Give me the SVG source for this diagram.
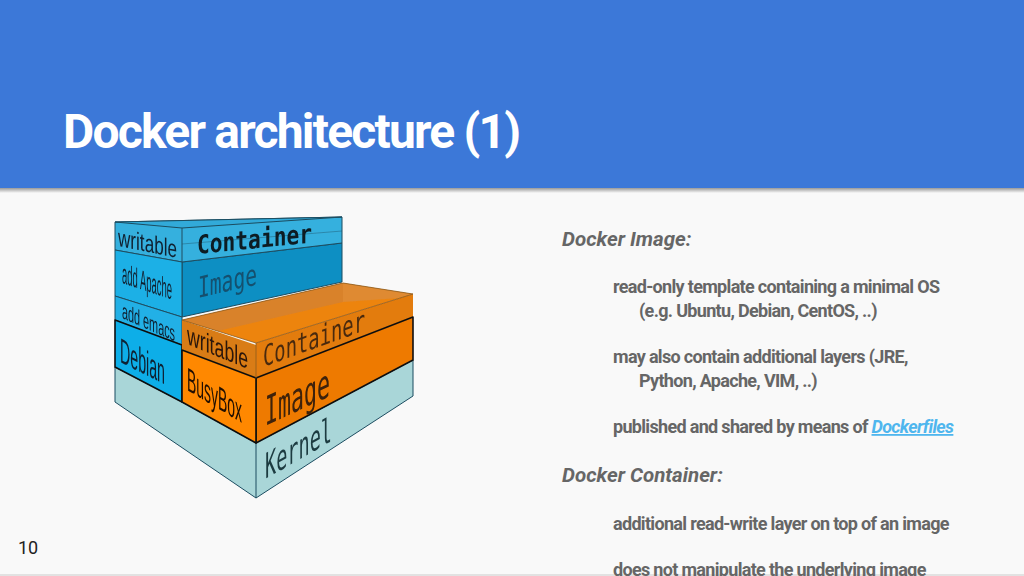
<svg xmlns="http://www.w3.org/2000/svg" width="1024" height="576" viewBox="0 0 1024 576">
<defs>
<style>
.b{font-family:Roboto,"Liberation Sans",sans-serif;font-weight:700;font-size:18px;fill:#666;letter-spacing:-.68px}
.h{font-family:Roboto,"Liberation Sans",sans-serif;font-weight:700;font-style:italic;font-size:20.5px;fill:#666}
.l{font-family:"Liberation Sans",sans-serif;fill:#102030}
.m{font-family:"DejaVu Sans Mono","Liberation Mono",monospace}
.e{stroke:#1c4c60;stroke-width:1;stroke-linejoin:round}
.k{stroke:#101010;stroke-width:1.6;stroke-linejoin:round}
</style>
<linearGradient id="sh" x1="0" y1="0" x2="0" y2="1"><stop offset="0" stop-color="#999"/><stop offset="1" stop-color="#f9f9f9"/></linearGradient>
<filter id="soft" x="-5%" y="-5%" width="110%" height="110%"><feGaussianBlur stdDeviation=".55"/></filter>
</defs>
<rect width="1024" height="576" fill="#f9f9f9"/>
<rect y="188" width="1024" height="5" fill="url(#sh)"/>
<rect width="1024" height="188" fill="#3c78d8"/>
<rect y="574" width="1024" height="2" fill="#e2e2e2"/>
<text x="63" y="148" font-family="Roboto,'Liberation Sans',sans-serif" font-weight="700" font-size="48" fill="#fff" letter-spacing="-1.8">Docker architecture (1)</text>
<text x="18" y="554" font-family="Roboto,'Liberation Sans',sans-serif" font-size="18" fill="#222">10</text>

<g id="stack" filter="url(#soft)">
<g id="kernel">
<polygon class="e" points="115,367 182,402 256,443 413,360 413,396 256,498 115,402" fill="#a9d6d8"/>
<line class="e" x1="256" y1="443" x2="256" y2="498"/>
<text class="l m" transform="matrix(1 -.57 0 1 265 479)" font-size="35" style="fill:#1c3a40" textLength="67" lengthAdjust="spacingAndGlyphs">Kernel</text>
</g>
<g id="blue-image">
<polygon class="e" points="182,262 342,243 342,282 182,317" fill="#0b8fc3"/>
<text class="l m" transform="matrix(1 -.23 0 1 198 298)" font-size="29" style="fill:#14506e" textLength="59" lengthAdjust="spacingAndGlyphs">Image</text>
</g>
<g id="blue-container">
<polygon class="e" points="115,222 342,217 342,243 182,262 115,250" fill="#36b0de"/>
<polygon class="e" points="115,222 182,228 342,217" fill="#30aad9"/>
<line class="e" x1="182" y1="228" x2="182" y2="262"/>
<line class="e" x1="182" y1="244" x2="342" y2="231" stroke-opacity=".4"/>
<text class="l m" transform="matrix(1 -.1 0 1 197 254)" font-size="26" font-weight="700" style="fill:#0a1a24" textLength="115" lengthAdjust="spacingAndGlyphs">Container</text>
<text class="l" transform="matrix(1 .2 0 1 118 246)" font-size="25" textLength="59" lengthAdjust="spacingAndGlyphs">writable</text>
</g>
<g id="add-apache">
<polygon class="e" points="115,250 182,262 182,317 115,296" fill="#1fb0e6"/>
<text class="l" transform="matrix(1 .33 0 1 122 283)" font-size="28" textLength="50" lengthAdjust="spacingAndGlyphs">add Apache</text>
</g>
<g id="add-emacs">
<polygon class="e" points="115,296 182,317 182,345 115,320" fill="#22b0e6"/>
<text class="l" transform="matrix(1 .44 0 1 122 318)" font-size="22" textLength="53" lengthAdjust="spacingAndGlyphs">add emacs</text>
</g>
<g id="debian">
<polygon class="k" points="115,320 182,345 182,402 115,367" fill="#08aee8"/>
<text class="l" transform="matrix(1 .5 0 1 120 362)" font-size="35" textLength="45" lengthAdjust="spacingAndGlyphs">Debian</text>
</g>
<g id="orange-image">
<polygon points="182,320 343,283 413,294 256,343" fill="#ed8410"/>
<polygon points="182,320 343,283 343,302 218,331" fill="#d9822a"/>
<polygon points="343,283 413,294 400,298 343,302" fill="#df8a30"/>
<polygon points="182,320 256,345 256,378 182,350" fill="#d97c12"/>
<polygon points="256,343 413,294 413,317 256,378" fill="#e37b0a"/>
<polygon class="k" points="256,378 413,317 413,360 256,443" fill="#ee7a00"/>
<polygon class="k" points="182,350 256,378 256,443 182,402" fill="#ff8800"/>
<polyline points="182,320 256,343 413,294 343,283 182,320" fill="none" stroke="#8a5a20" stroke-width=".8"/>
<line x1="256" y1="343" x2="256" y2="378" stroke="#8a5a20" stroke-width=".8"/>
<text class="l" transform="matrix(1 .41 0 1 187 344)" font-size="27" style="fill:#2a1608" textLength="61" lengthAdjust="spacingAndGlyphs">writable</text>
<text class="l m" transform="matrix(1 -.36 0 1 263 367)" font-size="29" style="fill:#4a2a10" textLength="102" lengthAdjust="spacingAndGlyphs">Container</text>
<text class="l" transform="matrix(1 .6 0 1 187 390)" font-size="33" style="fill:#201004" textLength="55" lengthAdjust="spacingAndGlyphs">BusyBox</text>
<text class="l m" transform="matrix(1 -.46 0 1 265 426)" font-size="40" style="fill:#3c2108" textLength="65" lengthAdjust="spacingAndGlyphs">Image</text>
</g>
</g>

<g id="notes">
<text class="h" x="562" y="246">Docker Image:</text>
<text class="b" x="613" y="293">read-only template containing a minimal OS</text>
<text class="b" x="639" y="317">(e.g. Ubuntu, Debian, CentOS, ..)</text>
<text class="b" x="613" y="363">may also contain additional layers (JRE,</text>
<text class="b" x="639" y="387">Python, Apache, VIM, ..)</text>
<text class="b" x="613" y="433">published and shared by means of <tspan font-style="italic" fill="#4fb6ee" text-decoration="underline">Dockerfiles</tspan></text>
<text class="h" x="562" y="482">Docker Container:</text>
<text class="b" x="613" y="530">additional read-write layer on top of an image</text>
<text class="b" x="613" y="576">does not manipulate the underlying image</text>
</g>
</svg>
